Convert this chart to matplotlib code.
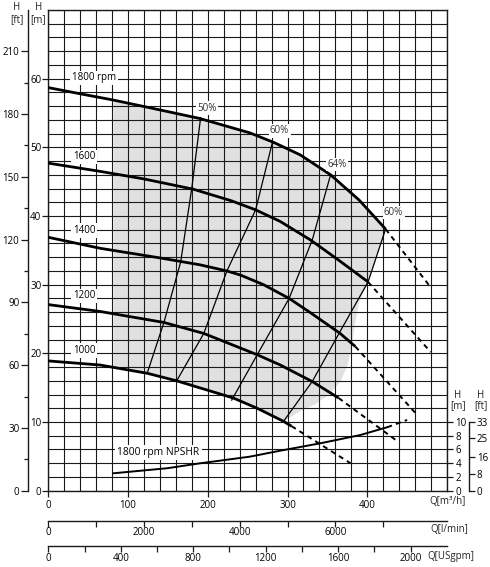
import numpy as np
import matplotlib
matplotlib.use('Agg')
import matplotlib.pyplot as plt
from matplotlib.ticker import MultipleLocator, FixedLocator

plt.rcParams['font.family'] = ['Open Sans', 'DejaVu Sans']
plt.rcParams['font.size'] = 7

# --- pump curves, Q [m3/h] vs H [m] ---
speeds = ['1800 rpm', '1600', '1400', '1200', '1000']

q_1800 = [0, 40, 81, 130, 190, 253, 283, 316, 354, 390, 423]
h_1800 = [58.7, 57.8, 56.9, 55.7, 54.2, 52.1, 50.7, 48.9, 46.0, 42.3, 38.1]
q_1600 = [0, 65, 120, 182, 230, 260, 291, 329, 365, 401]
h_1600 = [47.7, 46.5, 45.4, 43.9, 42.2, 40.9, 39.2, 36.5, 33.5, 30.4]
q_1400 = [0, 65, 140, 190, 224, 241, 270, 302, 329, 366, 385]
h_1400 = [36.9, 35.3, 33.9, 32.9, 32.0, 31.4, 30.0, 28.0, 25.9, 22.9, 21.0]
q_1200 = [0, 65, 145, 195, 262, 291, 331, 364]
h_1200 = [27.1, 26.1, 24.5, 22.9, 19.8, 18.3, 15.9, 13.5]
q_1000 = [0, 65, 124, 161, 232, 262, 295, 305]
h_1000 = [18.9, 18.3, 17.1, 16.0, 13.5, 12.0, 10.1, 9.4]

# dashed continuation end points (outside operating range)
q_dash_end = [477, 479.5, 460.5, 435.5, 379]
h_dash_end = [30.0, 20.2, 11.3, 7.4, 4.0]

# label positions for the speed curves
q_speed_lbl = [57.5, 45, 45, 45, 45]
h_speed_lbl = [60.1, 48.6, 37.9, 28.4, 20.4]

# efficiency iso-lines
eff_labels = ['50%', '60%', '64%', '60%']
q_eff = [[124, 145, 166, 180, 191],
         [161, 195, 224, 260, 281],
         [230, 262, 302, 331, 354],
         [295, 331, 366, 401, 423]]
h_eff = [[17.1, 24.5, 33.3, 44.1, 54.3],
         [16.0, 22.9, 32.0, 40.9, 50.7],
         [13.2, 19.8, 28.0, 36.5, 46.0],
         [10.1, 15.9, 23.2, 30.4, 38.1]]
q_eff_lbl = [199, 290, 362, 433]
h_eff_lbl = [55.7, 52.4, 47.5, 40.5]

# shaded operating region: right-hand boundary
q_shade_right = [423, 401, 390, 385, 381, 376, 367, 354, 335, 316, 297]
h_shade_right = [38.1, 30.4, 27.5, 24.5, 21.5, 18.5, 16.0, 14.2, 12.6, 11.6, 10.2]
q_shade_left = 82

# NPSHR at 1800 rpm (m)
q_npsh = [82, 149, 191, 253, 291, 341, 391, 425]
h_npsh = [2.54, 3.27, 4.0, 4.96, 5.83, 6.9, 8.1, 9.24]
q_npsh_dash = [425, 450]
h_npsh_dash = [9.24, 10.3]

curves = [(q_1800, h_1800), (q_1600, h_1600), (q_1400, h_1400),
          (q_1200, h_1200), (q_1000, h_1000)]

W, H = 490, 567
fig = plt.figure(figsize=(W / 100, H / 100), dpi=100)
ax = fig.add_axes([48.3 / W, 1 - 490.7 / H, (447 - 48.3) / W, (490.7 - 10) / H])
ax.set_xlim(0, 500)
ax.set_ylim(0, 70)

dark = '#1a1a1a'
ax.xaxis.set_major_locator(FixedLocator([0, 100, 200, 300, 400]))
ax.xaxis.set_minor_locator(MultipleLocator(20))
ax.yaxis.set_major_locator(FixedLocator([0, 10, 20, 30, 40, 50, 60]))
ax.yaxis.set_minor_locator(MultipleLocator(2))
ax.tick_params(which='major', length=4, width=0.9, color=dark, pad=3, labelsize=7)
ax.tick_params(which='minor', length=0)
ax.tick_params(axis='y', pad=1)
ax.grid(which='both', color=dark, lw=0.8)
ax.set_axisbelow(True)
for s in ax.spines.values():
    s.set_linewidth(1.0)
    s.set_color(dark)

# shaded region
top_q = np.linspace(q_shade_left, q_shade_right[0], 40)
top_h = np.interp(top_q, q_1800, h_1800)
bot_q = np.linspace(q_shade_right[-1], q_shade_left, 40)
bot_h = np.interp(bot_q, q_1000, h_1000)
poly_q = np.concatenate([top_q, q_shade_right, bot_q])
poly_h = np.concatenate([top_h, h_shade_right, bot_h])
ax.fill(poly_q, poly_h, color='#e0e0e0', lw=0, zorder=0.2)

# speed curves
for (q, h), qe, he, lbl, ql, hl in zip(curves, q_dash_end, h_dash_end,
                                       speeds, q_speed_lbl, h_speed_lbl):
    ax.plot(q, h, color='black', lw=2.0, zorder=3, solid_capstyle='butt')
    ax.plot([q[-1], qe], [h[-1], he], color='black', lw=1.4,
            dashes=(2.6, 2.2), zorder=3)
    ax.text(ql, hl, lbl, ha='center', va='center', fontsize=7, zorder=5,
            bbox=dict(facecolor='white', edgecolor='none', pad=1.2))

# efficiency lines
for q, h, lbl, ql, hl in zip(q_eff, h_eff, eff_labels, q_eff_lbl, h_eff_lbl):
    ax.plot(q, h, color='black', lw=0.9, zorder=2.5)
    ax.text(ql, hl, lbl, ha='center', va='center', fontsize=7, zorder=5,
            color='#333333',
            bbox=dict(facecolor='white', edgecolor='none', pad=1.0))

# NPSHR
ax.plot(q_npsh, h_npsh, color='black', lw=1.4, zorder=3)
ax.plot(q_npsh_dash, h_npsh_dash, color='black', lw=1.4, dashes=(2.6, 2.2), zorder=3)
ax.text(138, 5.6, '1800 rpm NPSHR', ha='center', va='center', fontsize=7.4, zorder=5,
        bbox=dict(facecolor='white', edgecolor='none', pad=1.5))

# extra flow scales
sec_l = ax.secondary_xaxis(-0.063, functions=(lambda q: q * 1000 / 60, lambda l: l * 60 / 1000))
sec_l.xaxis.set_major_locator(FixedLocator([0, 2000, 4000, 6000]))
sec_l.xaxis.set_minor_locator(FixedLocator([1000, 3000, 5000, 7000]))
sec_g = ax.secondary_xaxis(-0.1159, functions=(lambda q: q / 0.22712, lambda g: g * 0.22712))
sec_g.xaxis.set_major_locator(FixedLocator([0, 400, 800, 1200, 1600, 2000]))
sec_g.xaxis.set_minor_locator(FixedLocator([200, 600, 1000, 1400, 1800]))
for s in (sec_l, sec_g):
    s.tick_params(which='both', length=4, width=0.9, color=dark, pad=0.5, labelsize=7)
    s.spines['bottom'].set_linewidth(1.0)
    s.spines['bottom'].set_color(dark)

# head in feet (left)
sec_ft = ax.secondary_yaxis(-0.0517, functions=(lambda m: m / 0.3048, lambda f: f * 0.3048))
sec_ft.yaxis.set_major_locator(FixedLocator(list(range(0, 211, 30))))
sec_ft.yaxis.set_minor_locator(FixedLocator(list(range(15, 200, 30))))
sec_ft.tick_params(which='major', length=5, width=0.9, color=dark, pad=1, labelsize=7)
sec_ft.tick_params(which='minor', length=3, width=0.9, color=dark)
sec_ft.spines['left'].set_linewidth(1.0)
sec_ft.spines['left'].set_color(dark)

# NPSH scales (right)
sec_nm = ax.secondary_yaxis('right')
sec_nm.yaxis.set_major_locator(FixedLocator([0, 2, 4, 6, 8, 10]))
sec_nm.tick_params(length=4, width=0.9, color=dark, pad=2, labelsize=7)
sec_nm.spines['right'].set_visible(False)

sec_nf = ax.secondary_yaxis(1.056, functions=(lambda m: m / 0.3048, lambda f: f * 0.3048))
sec_nf.yaxis.set_major_locator(FixedLocator([0, 8, 16, 25, 33]))
sec_nf.tick_params(length=4, width=0.9, color=dark, pad=1.5, labelsize=7)
sec_nf.spines['right'].set_bounds(0, 33)
sec_nf.spines['right'].set_linewidth(1.0)
sec_nf.spines['right'].set_color(dark)


def ftext(px, py, s, ha='center'):
    fig.text(px / W, 1 - py / H, s, ha=ha, va='center', fontsize=7, color='#222222')


ftext(17, 7, 'H')
ftext(17, 20, '[ft]')
ftext(38.5, 7, 'H')
ftext(38.5, 20, '[m]')
ftext(458, 395, 'H')
ftext(458, 406, '[m]')
ftext(481, 395, 'H')
ftext(481, 406, '[ft]')
ftext(466, 502, 'Q[m³/h]', ha='right')
ftext(468, 530, 'Q[l/min]', ha='right')
ftext(474, 556, 'Q[USgpm]', ha='right')

fig.savefig('out.png', dpi=100)
